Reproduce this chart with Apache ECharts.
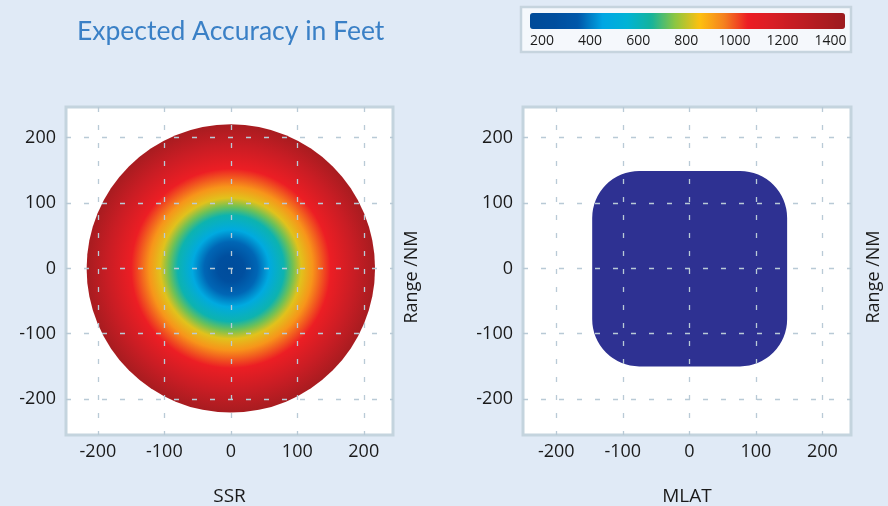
<!DOCTYPE html>
<html><head><meta charset="utf-8">
<script src="https://cdn.jsdelivr.net/npm/echarts@6/dist/echarts.min.js"></script>
<style>html,body{margin:0;padding:0;background:#e0eaf6;} #c{width:888px;height:506px;}</style>
</head><body><div id="c"></div>
<script>
// ---- data ----
const axisTicks = [-200, -100, 0, 100, 200];
const colorbarTicks = [200, 400, 600, 800, 1000, 1200, 1400];
const colorbarRange = [150, 1460];
const colorbarColors = ['#004a98', '#004e9e', '#0058aa', '#00a6e4', '#00b3d6', '#14b39c', '#8dc640',
                        '#fdc010', '#f5821f', '#ec1c24', '#d81e25', '#c31d23', '#af1c21', '#9c1b1f'];
// SSR: expected accuracy (ft) versus range (NM) from the sensor
const ssrRangeNM    = [0,   20,  40,  58,  80,  93,  106, 123, 150,  185,  217];
const ssrAccuracyFt = [200, 260, 370, 480, 620, 730, 830, 925, 1055, 1230, 1400];
const ssrCoverageNM = 217;
// MLAT: coverage region (NM)
const mlatExtentX = [-146, 147];
const mlatExtentY = [-150, 149];
const mlatCornerNM = 72;
const panelNames = ['SSR', 'MLAT'];
const yName = 'Range /NM';
const titleText = 'Expected Accuracy in Feet';

// ---- helpers ----
const FONT = 'Open Sans';
const TXT = '#1a1a1a';
function colorFor(v) {
  return echarts.color.lerp((v - colorbarRange[0]) / (colorbarRange[1] - colorbarRange[0]), colorbarColors);
}
const gridLine = {show: true, lineStyle: {color: '#b9cad6', width: 1.3, type: [5, 13]}};
function xAx(gi, min, max, name) {
  return {gridIndex: gi, type: 'value', min: min, max: max, z: 5,
    name: name, nameLocation: 'middle', nameGap: 52,
    nameTextStyle: {fontSize: 19, color: TXT, fontFamily: FONT},
    axisLine: {show: false}, axisTick: {show: false, customValues: axisTicks},
    axisLabel: {customValues: axisTicks, fontSize: 18, color: TXT, fontFamily: FONT, margin: 8},
    splitLine: gridLine};
}
function yAx(gi, min, max) {
  return {gridIndex: gi, type: 'value', min: min, max: max, z: 5,
    axisLine: {show: false}, axisTick: {show: false, customValues: axisTicks},
    axisLabel: {customValues: axisTicks, fontSize: 18, color: TXT, fontFamily: FONT, margin: 10},
    splitLine: gridLine};
}
function yNameAx(gi, min, max, gap) {
  return {gridIndex: gi, type: 'value', min: min, max: max, position: 'right',
    name: yName, nameLocation: 'middle', nameRotate: 90, nameGap: gap,
    nameTextStyle: {fontSize: 18, color: TXT, fontFamily: FONT, padding: [0, 12, 0, 0]},
    axisLine: {show: false}, axisTick: {show: false}, axisLabel: {show: false}, splitLine: {show: false}};
}

function renderSSR(params, api) {
  const c = api.coord([api.value(0), api.value(1)]);
  const s = api.size([api.value(2), api.value(2)]);
  const R = api.value(2);
  const stops = ssrRangeNM.map((r, i) => ({offset: r / R, color: colorFor(ssrAccuracyFt[i])}));
  return {type: 'circle', shape: {cx: c[0], cy: c[1], r: s[0]},
    style: {fill: {type: 'radial', x: 0.5, y: 0.5, r: 0.5, colorStops: stops}}};
}
function renderMLAT(params, api) {
  const p0 = api.coord([api.value(0), api.value(3)]);
  const p1 = api.coord([api.value(1), api.value(2)]);
  const rr = api.size([api.value(4), api.value(4)]);
  return {type: 'rect', shape: {x: p0[0], y: p0[1], width: p1[0] - p0[0], height: p1[1] - p0[1], r: Math.min(rr[0], rr[1])},
    style: {fill: '#2e3192'}};
}

const gridBase = {show: true, backgroundColor: '#ffffff', borderColor: '#c4d4de', borderWidth: 3,
  containLabel: false, outerBoundsMode: 'none'};
const chart = echarts.init(document.getElementById('c'), null, {renderer: 'canvas'});
chart.setOption({
  backgroundColor: '#e0eaf6',
  animation: false,
  title: {text: titleText, left: 72, top: 13,
    textStyle: {fontSize: 26.5, fontWeight: 'normal', color: '#3a80c6', fontFamily: 'Lato'}},
  graphic: [{type: 'rect', z: -1, shape: {x: 521, y: 7, width: 330, height: 45},
    style: {fill: '#f5f8fc', stroke: '#c6d4de', lineWidth: 2.5}}],
  visualMap: {type: 'continuous', seriesIndex: 0, orient: 'horizontal', left: 530, top: 13, padding: 0,
    itemWidth: 16, itemHeight: 315, min: colorbarRange[0], max: colorbarRange[1],
    calculable: false, hoverLink: false, inRange: {color: colorbarColors}},
  grid: [
    Object.assign({left: 66, top: 107, width: 327, height: 328}, gridBase),
    Object.assign({left: 523, top: 107, width: 328, height: 328}, gridBase),
    {left: 530, top: 13, width: 315, height: 16, show: false, outerBoundsMode: 'none'}
  ],
  xAxis: [
    xAx(0, -248, 244, panelNames[0]),
    xAx(1, -250, 243, panelNames[1]),
    {gridIndex: 2, type: 'value', min: colorbarRange[0], max: colorbarRange[1],
      axisLine: {show: false}, axisTick: {show: false, customValues: colorbarTicks}, splitLine: {show: false},
      axisLabel: {customValues: colorbarTicks, formatter: v => String(v), fontSize: 14, color: TXT, fontFamily: FONT, margin: 5}}
  ],
  yAxis: [
    yAx(0, -255, 247), yNameAx(0, -255, 247, 10),
    yAx(1, -255, 247), yNameAx(1, -255, 247, 14),
    {gridIndex: 2, type: 'value', show: false}
  ],
  series: [
    {type: 'custom', xAxisIndex: 0, yAxisIndex: 0, renderItem: renderSSR, data: [[0, 0, ssrCoverageNM]], silent: true},
    {type: 'custom', xAxisIndex: 1, yAxisIndex: 2, renderItem: renderMLAT,
      data: [[mlatExtentX[0], mlatExtentX[1], mlatExtentY[0], mlatExtentY[1], mlatCornerNM]], silent: true}
  ]
});
</script></body></html>
